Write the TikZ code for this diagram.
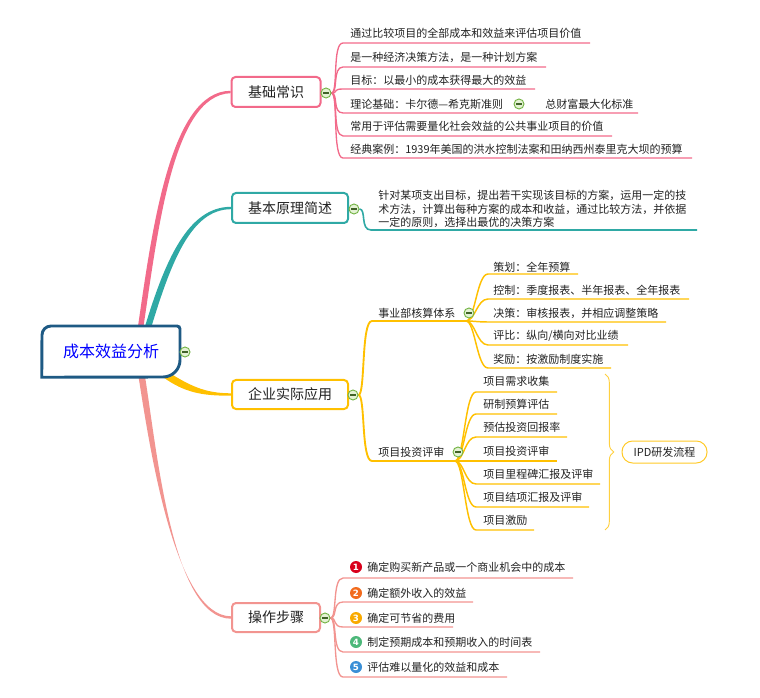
\documentclass[tikz,border=0pt]{standalone}
\usepackage{fontspec}
\setmainfont{Noto Sans CJK SC}
\newfontfamily\numfont{DejaVu Sans}
\usetikzlibrary{calc,decorations.pathreplacing}
\definecolor{cpink}{HTML}{F26A8A}
\definecolor{cteal}{HTML}{2FA9A5}
\definecolor{cyel}{HTML}{FFC000}
\definecolor{csal}{HTML}{F29490}
\definecolor{croot}{HTML}{1E5A84}
\definecolor{cgreen}{HTML}{74B446}
\definecolor{cgfill}{HTML}{E4F2D4}
\definecolor{ctext}{HTML}{222222}
\definecolor{nA}{HTML}{D9001B}
\definecolor{nB}{HTML}{F26B1D}
\definecolor{nC}{HTML}{F9AA00}
\definecolor{nD}{HTML}{4DB87A}
\definecolor{nE}{HTML}{3A8FD6}
\pgfdeclarelayer{bg}
\pgfdeclarelayer{mid}
\pgfsetlayers{bg,mid,main}
\tikzset{
  item/.style={anchor=west,inner sep=0pt,text=ctext,font=\fontsize{8.25}{10.1}\selectfont},
  branchbox/.style={draw=#1,fill=white,line width=1.5pt,rounded corners=3pt,inner sep=0pt,text=ctext,font=\fontsize{10.5}{12}\selectfont},
  collapse/.style={circle,draw=cgreen,fill=cgfill,line width=0.7pt,minimum size=7.5pt,inner sep=0pt,
     path picture={\draw[cgreen!55!black,line width=0.8pt] ([xshift=1.6pt]path picture bounding box.west) -- ([xshift=-1.6pt]path picture bounding box.east);}},
  badge/.style={circle,fill=#1,minimum size=9pt,inner sep=0pt,text=white,font=\numfont\bfseries\fontsize{6.5}{6.5}\selectfont},
  pk/.style={cpink,line width=1pt},
  tl/.style={cteal,line width=1.2pt},
  yl/.style={cyel,line width=1.4pt},
  ylt/.style={cyel,line width=1.1pt},
  sl/.style={csal,line width=1pt},
  rootlabel/.style={text=blue,font=\fontsize{12}{14}\selectfont,inner sep=0pt,minimum width=138*0.75pt,minimum height=51*0.75pt}
}
\begin{document}
\begin{tikzpicture}[x=0.75pt,y=-0.75pt]
\useasboundingbox (0,0) rectangle (760,698);

% ---------- root ----------
\node[rootlabel] (root) at (111,351.5) {成本效益分析};
\node[collapse] (c0) at (185,352) {};
\begin{pgfonlayer}{mid}
\draw[croot,line width=2.2pt,fill=white] (root.south west) -- (42,335) .. controls (42,330) and (46,326) .. (51,326) -- (177,326) .. controls (178.7,326) and (180,327.3) .. (180,329) -- (180,360) .. controls (180,369.4) and (172.4,377) .. (163,377) -- cycle;
\end{pgfonlayer}

% ---------- main branches ----------
\node[branchbox=cpink, minimum width=89*0.75pt, minimum height=30*0.75pt] (b1) at (276,92) {基础常识};
\node[branchbox=cteal, minimum width=116*0.75pt, minimum height=30*0.75pt] (b2) at (290,208) {基本原理简述};
\node[branchbox=cyel, minimum width=116*0.75pt, minimum height=29*0.75pt] (b3) at (290,394.5) {企业实际应用};
\node[branchbox=csal, minimum width=88*0.75pt, minimum height=29*0.75pt] (b4) at (276,617.5) {操作步骤};
\node[collapse] (c1) at (326,93) {};
\node[collapse] (c2) at (354,209) {};
\node[collapse] (c3) at (353,395) {};
\node[collapse] (c4) at (325,618) {};

\begin{pgfonlayer}{bg}
\fill[cpink] ($(root.north)+(26.5,4)$) .. controls (152,230) and (170,91) .. ($(b1.west)+(0,-1.2)$) -- ($(b1.west)+(0,1.2)$) .. controls (173,95) and (158,230) .. ($(root.north)+(32,4)$) -- cycle;
\fill[cteal] ($(root.north)+(33,4)$) .. controls (165,260) and (188,206.8) .. ($(b2.west)+(0,-1.2)$) -- ($(b2.west)+(0,1.2)$) .. controls (191,209.2) and (171,262) .. ($(root.north)+(39.5,4)$) -- cycle;
\fill[cyel] ($(root.south east)+(-15,-7)$) .. controls (190,386) and (205,393.3) .. ($(b3.west)+(0,-1.2)$) -- ($(b3.west)+(0,1.2)$) .. controls (203,395.8) and (185,393) .. ($(root.south east)+(-17,0)$) -- cycle;
\fill[csal] ($(root.south)+(27,-4)$) .. controls (150,450) and (175,616.3) .. ($(b4.west)+(0,-1.2)$) -- ($(b4.west)+(0,1.2)$) .. controls (172,618.7) and (157,450) .. ($(root.south)+(33.5,-4)$) -- cycle;
\end{pgfonlayer}

% ---------- branch 1 ----------
\foreach \yt/\yl/\xe/\txt [count=\i] in {33/43/590/通过比较项目的全部成本和效益来评估项目价值,57/67/546/是一种经济决策方法，是一种计划方案,80/89/535/目标：以最小的成本获得最大的效益,104/113/638/理论基础：卡尔德—希克斯准则,126/136/612/常用于评估需要量化社会效益的公共事业项目的价值,149/158/692/经典案例：1939年美国的洪水控制法案和田纳西州泰里克大坝的预算}{
  \coordinate (a\i s) at (343,\yl);
  \coordinate (a\i e) at (\xe,\yl);
  \begin{pgfonlayer}{bg}
  \draw[pk] (c1.east) .. controls +(7,0) and +(-11,0) .. (a\i s) -- (a\i e);
  \end{pgfonlayer}
  \node[item] (a\i t) at (350,\yt) {\txt};
}
\node[collapse] (c14) at (519,104) {};
\node[item] (a4x) at (545,104) {总财富最大化标准};

% ---------- branch 2 ----------
\coordinate (d1s) at (371,230);
\coordinate (d1e) at (697,230);
\begin{pgfonlayer}{bg}
\draw[tl] (c2.east) .. controls +(7,0) and +(-11,0) .. (d1s) -- (d1e);
\end{pgfonlayer}
\node[item,align=left] (d1t) at (378,209) {针对某项支出目标，提出若干实现该目标的方案，运用一定的技\\术方法，计算出每种方案的成本和收益，通过比较方法，并依据\\一定的原则，选择出最优的决策方案};

% ---------- branch 3 ----------
\coordinate (e1s) at (372,321);
\coordinate (j31) at (466,321);
\coordinate (e2s) at (372,461);
\coordinate (j32) at (455,461);
\begin{pgfonlayer}{bg}
\draw[yl] (c3.east) .. controls +(7,0) and +(-11,0) .. (e1s) -- (j31);
\draw[yl] (c3.east) .. controls +(7,0) and +(-11,0) .. (e2s) -- (j32);
\end{pgfonlayer}
\node[item] (e1t) at (378,313) {事业部核算体系};
\node[item] (e2t) at (378,452) {项目投资评审};
\node[collapse] (c31) at (469,313) {};
\node[collapse] (c32) at (458,452) {};

\foreach \yt/\yl/\xe/\txt [count=\i] in {267/274/578/策划：全年预算,290/299/689/控制：季度报表、半年报表、全年报表,313/322/666/决策：审核报表，并相应调整策略,336/345/628/{评比：纵向/横向对比业绩},359/368/611/奖励：按激励制度实施}{
  \coordinate (f\i s) at (488,\yl);
  \coordinate (f\i e) at (\xe,\yl);
  \begin{pgfonlayer}{bg}
  \draw[ylt] (j31) .. controls +(9,0) and +(-11,0) .. (f\i s) -- (f\i e);
  \end{pgfonlayer}
  \node[item] (f\i t) at (493,\yt) {\txt};
}

\foreach \yt/\yl/\xe/\txt [count=\i] in {381/392/557/项目需求收集,404/414/557/研制预算评估,427/437/567/预估投资回报率,451/461/557/项目投资评审,474/484/600/项目里程碑汇报及评审,497/507/589/项目结项汇报及评审,520/530/534/项目激励}{
  \coordinate (g\i s) at (476,\yl);
  \coordinate (g\i e) at (\xe,\yl);
  \begin{pgfonlayer}{bg}
  \draw[ylt] (j32) .. controls +(9,0) and +(-11,0) .. (g\i s) -- (g\i e);
  \end{pgfonlayer}
  \node[item] (g\i t) at (483,\yt) {\txt};
}

\coordinate (brT) at (605,374);
\coordinate (brB) at (605,530);
\draw[cyel!75,line width=0.7pt,decorate,decoration={brace,amplitude=6.5pt}] (brT) -- (brB);
\node[draw=cyel!85,line width=0.75pt,rounded corners=8pt,minimum width=85*0.75pt,minimum height=22*0.75pt,inner sep=0pt,text=ctext,font=\fontsize{8.25}{10}\selectfont] (ipd) at (664.5,452) {IPD研发流程};

% ---------- branch 4 ----------
\foreach \yt/\yl/\xe/\col/\num/\txt [count=\i] in {567/578/573/nA/1/确定购买新产品或一个商业机会中的成本,593/602/473/nB/2/确定额外收入的效益,618/627/453/nC/3/确定可节省的费用,642/652/540/nD/4/制定预期成本和预期收入的时间表,667/677/507/nE/5/评估难以量化的效益和成本}{
  \coordinate (h\i s) at (343,\yl);
  \coordinate (h\i e) at (\xe,\yl);
  \begin{pgfonlayer}{bg}
  \draw[sl] (c4.east) .. controls +(7,0) and +(-11,0) .. (h\i s) -- (h\i e);
  \end{pgfonlayer}
  \node[badge=\col] (h\i b) at (356,\yt) {\num};
  \node[item] (h\i t) at (367,\yt) {\txt};
}
\end{tikzpicture}
\end{document}
